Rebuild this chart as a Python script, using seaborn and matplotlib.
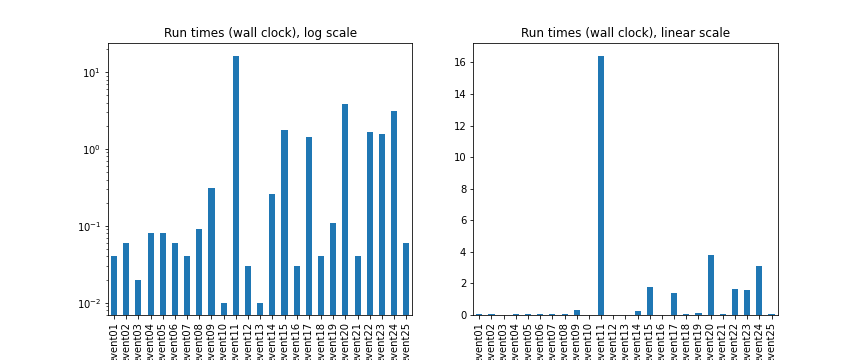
import matplotlib
matplotlib.use("Agg")
import matplotlib.pyplot as plt
import seaborn as sns
import pandas as pd

# run times per event (seconds)
events = ["event%02d" % i for i in range(1, 26)]
times = [0.04, 0.06, 0.02, 0.08, 0.08, 0.06, 0.04, 0.09, 0.31, 0.01,
         16.4, 0.03, 0.01, 0.26, 1.78, 0.03, 1.42, 0.04, 0.11, 3.8,
         0.04, 1.66, 1.58, 3.12, 0.06]

df = pd.DataFrame({"event": events, "time": times})

fig, (ax1, ax2) = plt.subplots(1, 2, figsize=(12, 5), dpi=72)
fig.subplots_adjust(bottom=0.125)

sns.barplot(data=df, x="event", y="time", ax=ax1, color="#1f77b4",
            saturation=1, width=0.5)
ax1.set_yscale("log")
ax1.autoscale_view(scalex=False)
ax1.set_xlim(-0.5, len(events) - 0.5)
ax1.set_title("Run times (wall clock), log scale")

sns.barplot(data=df, x="event", y="time", ax=ax2, color="#1f77b4",
            saturation=1, width=0.5)
ax2.set_title("Run times (wall clock), linear scale")

for ax in (ax1, ax2):
    ax.set_xlabel("")
    ax.set_ylabel("")
    ax.tick_params(axis="x", labelrotation=90)

fig.savefig("out.png", dpi=72)
